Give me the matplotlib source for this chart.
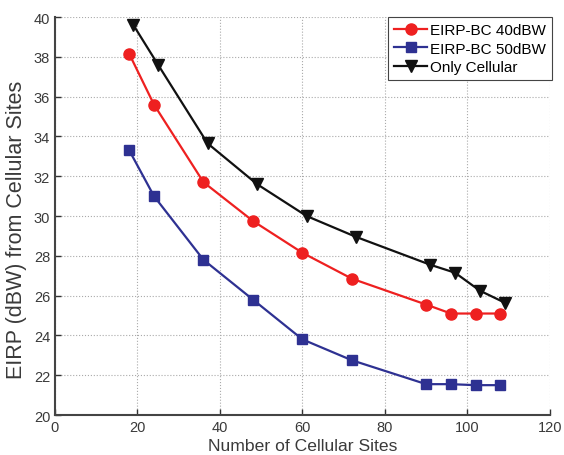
import matplotlib
matplotlib.use("Agg")
import matplotlib.pyplot as plt

plt.rcParams['font.family'] = ['Liberation Sans', 'DejaVu Sans']

# values
sites_40 = [18, 24, 36, 48, 60, 72, 90, 96, 102, 108]
eirp_40 = [38.15, 35.6, 31.7, 29.75, 28.15, 26.85, 25.55, 25.1, 25.1, 25.1]

sites_50 = [18, 24, 36, 48, 60, 72, 90, 96, 102, 108]
eirp_50 = [33.3, 31.0, 27.8, 25.8, 23.8, 22.75, 21.55, 21.55, 21.5, 21.5]

sites_cell = [19, 25, 37, 49, 61, 73, 91, 97, 103, 109]
eirp_cell = [39.6, 37.6, 33.65, 31.6, 30.0, 28.95, 27.55, 27.15, 26.25, 25.65]

labels = ["EIRP-BC 40dBW", "EIRP-BC 50dBW", "Only Cellular"]

fig = plt.figure(figsize=(5.64, 4.56), dpi=100)
ax = fig.add_axes([0.0975, 0.0877, 0.8775, 0.8728])

ax.plot(sites_40, eirp_40, color='#ee2020', lw=1.6, marker='o', ms=8,
        label=labels[0])
ax.plot(sites_50, eirp_50, color='#2e3192', lw=1.6, marker='s', ms=7,
        label=labels[1])
ax.plot(sites_cell, eirp_cell, color='#111111', lw=1.6, marker='v', ms=8,
        label=labels[2])

ax.set_xlim(0, 120)
ax.set_ylim(20, 40)
ax.set_xticks(range(0, 121, 20))
ax.set_yticks(range(20, 41, 2))
ax.tick_params(direction='in', labelsize=10.5, length=4, width=1,
               colors='#333333', labelcolor='#3a3a3a')
ax.grid(True, linestyle=':', color='#aaaaaa', lw=0.8)

for s in ['top', 'right']:
    ax.spines[s].set_visible(False)
for s in ['left', 'bottom']:
    ax.spines[s].set_linewidth(1.5)
    ax.spines[s].set_color('#444444')

ax.set_xlabel("Number of Cellular Sites", fontsize=12.6, color='#3a3a3a')
ax.set_ylabel("EIRP (dBW) from Cellular Sites", fontsize=15.5, color='#3a3a3a')
ax.xaxis.set_label_coords(0.5, -0.058, transform=ax.transAxes)
ax.yaxis.set_label_coords(-0.057, 0.467, transform=ax.transAxes)

leg = ax.legend(loc='upper right', bbox_to_anchor=(1.005, 1.0),
                borderaxespad=0, fontsize=11, handlelength=2.2,
                fancybox=False, framealpha=1, edgecolor='#444444',
                labelspacing=0.3, borderpad=0.4, handletextpad=0.2)
leg.get_frame().set_linewidth(0.8)

fig.savefig("out.png", dpi=100)
